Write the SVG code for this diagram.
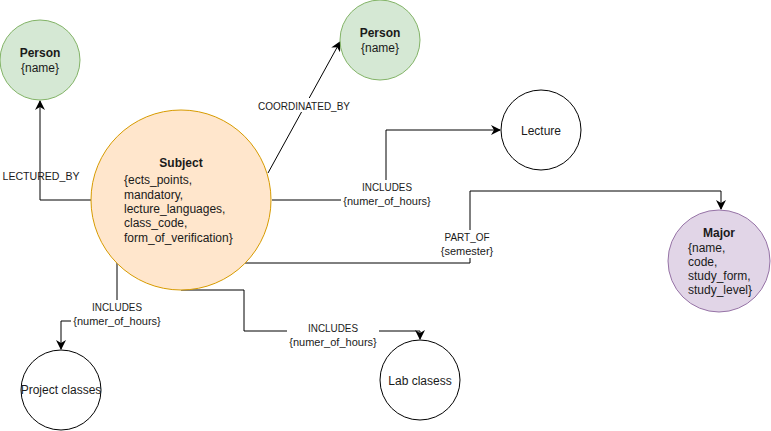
<svg xmlns="http://www.w3.org/2000/svg" width="771" height="431" viewBox="0 0 771 431">
<defs>
<style>
text{font-family:"Liberation Sans",Arial,sans-serif;fill:#1a1a1a;}
.t{font-size:12px;}
.b{font-size:12px;font-weight:bold;}
.l{font-size:11px;}
.m{text-anchor:middle;}
.e{fill:none;stroke:#000;stroke-width:1;}
.bg{fill:#fff;}
.plain{fill:#fff;stroke:#000;stroke-width:1;}
.green{fill:#d5e8d4;stroke:#82b366;stroke-width:1;}
.orange{fill:#ffe6cc;stroke:#d79b00;stroke-width:1;}
.purple{fill:#e1d5e7;stroke:#9673a6;stroke-width:1;}
</style>
<marker id="arr" viewBox="0 0 10 10" refX="9" refY="5" markerWidth="10" markerHeight="10" markerUnits="userSpaceOnUse" orient="auto">
<path d="M0,0 L10,5 L0,10 L3,5 Z" fill="#000"/>
</marker>
</defs>

<g id="connectors">
<path class="e" d="M91,200 H40 V101" marker-end="url(#arr)"/>
<path class="e" d="M268,173 L340,42" marker-end="url(#arr)"/>
<path class="e" d="M272,200 H386 V130 H500" marker-end="url(#arr)"/>
<path class="e" d="M245,263 H470 V191 H721 V209" marker-end="url(#arr)"/>
<path class="e" d="M117,262 V321 H61 V349" marker-end="url(#arr)"/>
<path class="e" d="M181,290 H244 V331 H420 V339" marker-end="url(#arr)"/>
</g>

<g id="labels">
<text class="l m" x="41" y="180" textLength="77" lengthAdjust="spacingAndGlyphs">LECTURED_BY</text>
<rect class="bg" x="257" y="98" width="94" height="14"/>
<text class="l m" x="304" y="110" textLength="92" lengthAdjust="spacingAndGlyphs">COORDINATED_BY</text>
<rect class="bg" x="341" y="180" width="92" height="28"/>
<text class="l m" x="387" y="191" textLength="50" lengthAdjust="spacingAndGlyphs">INCLUDES</text>
<text class="l m" x="387" y="205">{numer_of_hours}</text>
<rect class="bg" x="442" y="230" width="56" height="28"/>
<text class="l m" x="467" y="241" textLength="45" lengthAdjust="spacingAndGlyphs">PART_OF</text>
<text class="l m" x="467" y="255">{semester}</text>
<rect class="bg" x="71" y="300" width="92" height="28"/>
<text class="l m" x="117" y="311" textLength="50" lengthAdjust="spacingAndGlyphs">INCLUDES</text>
<text class="l m" x="117" y="325">{numer_of_hours}</text>
<rect class="bg" x="287" y="321" width="92" height="28"/>
<text class="l m" x="333" y="332" textLength="50" lengthAdjust="spacingAndGlyphs">INCLUDES</text>
<text class="l m" x="333" y="346">{numer_of_hours}</text>
</g>

<g id="person1">
<circle class="green" cx="40" cy="60" r="40"/>
<text class="b m" x="40" y="57">Person</text>
<text class="t m" x="40" y="72">{name}</text>
</g>

<g id="person2">
<circle class="green" cx="380" cy="40" r="40"/>
<text class="b m" x="380" y="37">Person</text>
<text class="t m" x="380" y="52">{name}</text>
</g>

<g id="subject">
<circle class="orange" cx="181" cy="200" r="90"/>
<text class="b m" x="181" y="167">Subject</text>
<text class="t" x="124" y="184">{ects_points,</text>
<text class="t" x="124" y="199">mandatory,</text>
<text class="t" x="124" y="213">lecture_languages,</text>
<text class="t" x="124" y="227">class_code,</text>
<text class="t" x="124" y="242">form_of_verification}</text>
</g>

<g id="lecture">
<circle class="plain" cx="541" cy="130" r="40"/>
<text class="t m" x="541" y="135">Lecture</text>
</g>

<g id="major">
<circle class="purple" cx="719" cy="261" r="51"/>
<text class="b m" x="719" y="237">Major</text>
<text class="t" x="688" y="252">{name,</text>
<text class="t" x="688" y="266">code,</text>
<text class="t" x="688" y="280">study_form,</text>
<text class="t" x="688" y="294">study_level}</text>
</g>

<g id="project">
<circle class="plain" cx="61" cy="390" r="40"/>
<text class="t m" x="61" y="394">Project classes</text>
</g>

<g id="lab">
<circle class="plain" cx="420" cy="380" r="40"/>
<text class="t m" x="420" y="385">Lab clasess</text>
</g>
</svg>
